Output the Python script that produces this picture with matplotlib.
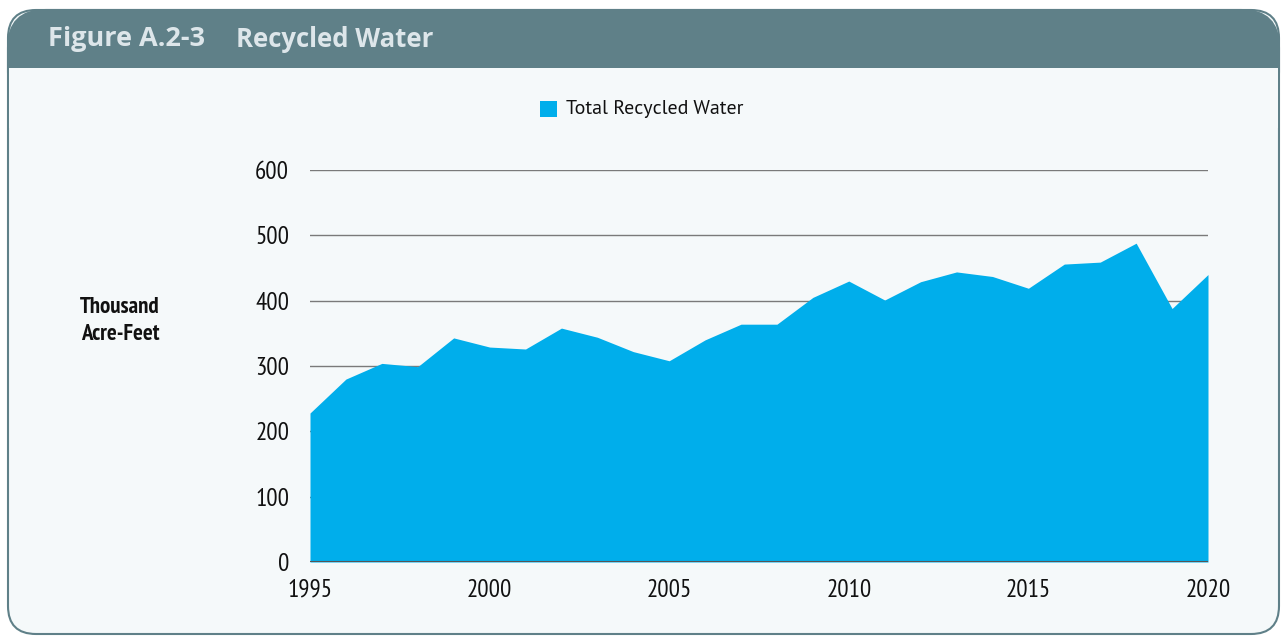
import matplotlib
matplotlib.use("Agg")
import matplotlib.pyplot as plt
from matplotlib.patches import FancyBboxPatch, Rectangle
import matplotlib.font_manager as fm

years = list(range(1995, 2021))
recycled = [228, 280, 304, 299, 343, 329, 326, 358, 344, 322, 308, 340, 364, 364,
            405, 430, 401, 429, 444, 437, 419, 456, 459, 488, 388, 440]
y_ticks = [0, 100, 200, 300, 400, 500, 600]
x_ticks = [1995, 2000, 2005, 2010, 2015, 2020]

names = {f.name for f in fm.fontManager.ttflist}
cond = "DejaVu Sans"
for cand in ["PT Sans Narrow", "Fira Sans Condensed", "Roboto Condensed",
             "Open Sans Condensed", "Archivo Narrow", "Liberation Sans Narrow",
             "DejaVu Sans Condensed"]:
    if cand in names:
        cond = cand
        break
reg = "Open Sans"
for cand in ["PT Sans", "Open Sans"]:
    if cand in names:
        reg = cand
        break
title_font = "Open Sans"

W, H = 1287, 644
fig = plt.figure(figsize=(W / 100, H / 100), dpi=100)
fig.patch.set_facecolor("white")

bg = fig.add_axes([0, 0, 1, 1], zorder=-10)
bg.set_xlim(0, W)
bg.set_ylim(H, 0)
bg.axis("off")
teal = "#5f8088"
bg.add_patch(FancyBboxPatch((8, 10), W - 16, H - 20,
                            boxstyle="round,pad=0,rounding_size=28",
                            facecolor="#f5f9fa", edgecolor=teal, linewidth=1.5))
bg.add_patch(FancyBboxPatch((8, 10), W - 16, 100,
                            boxstyle="round,pad=0,rounding_size=38",
                            facecolor=teal, edgecolor=teal, linewidth=1.5))
bg.add_patch(Rectangle((9, 68), W - 18, 60, facecolor="#f5f9fa", edgecolor="none"))
bg.text(48, 39, "Figure A.2-3", fontsize=19.5, fontweight="bold",
        color="#dde6ea", va="center", ha="left", family=title_font)
bg.text(236, 39, "Recycled Water", fontsize=18.5, fontweight="bold",
        color="#dde6ea", va="center", ha="left", family=title_font)

bg.add_patch(Rectangle((540, 101), 17, 16, facecolor="#00aeeb", edgecolor="none"))
bg.text(566, 109, "Total Recycled Water", fontsize=14.4, color="#111111",
        va="center", ha="left", family=reg)

bg.text(120, 321, "Thousand\nAcre-Feet", fontsize=16.5, fontweight="bold",
        color="#111111", va="center", ha="center", family=cond, linespacing=1.35)

ax = fig.add_axes([310 / W, (H - 562) / H, (1208 - 310) / W, (562 - 170) / H])
ax.set_facecolor("none")
ax.fill_between(years, recycled, 0, color="#00aeeb", linewidth=0, zorder=2)
ax.set_xlim(1995, 2020)
ax.set_ylim(0, 600)
ax.set_yticks(y_ticks)
ax.set_xticks(x_ticks)
for y in y_ticks[1:]:
    ax.axhline(y, color="#7a7a7a", linewidth=1.0, zorder=1)
ax.axhline(0, color="#555555", linewidth=1.5, zorder=3)
for s in ax.spines.values():
    s.set_visible(False)
ax.tick_params(axis="both", length=0, labelsize=18, labelcolor="#111111")
ax.tick_params(axis="y", pad=15)
ax.tick_params(axis="x", pad=12)
for lbl in ax.get_xticklabels() + ax.get_yticklabels():
    lbl.set_family(cond)

fig.savefig("out.png", dpi=100, facecolor="white")
